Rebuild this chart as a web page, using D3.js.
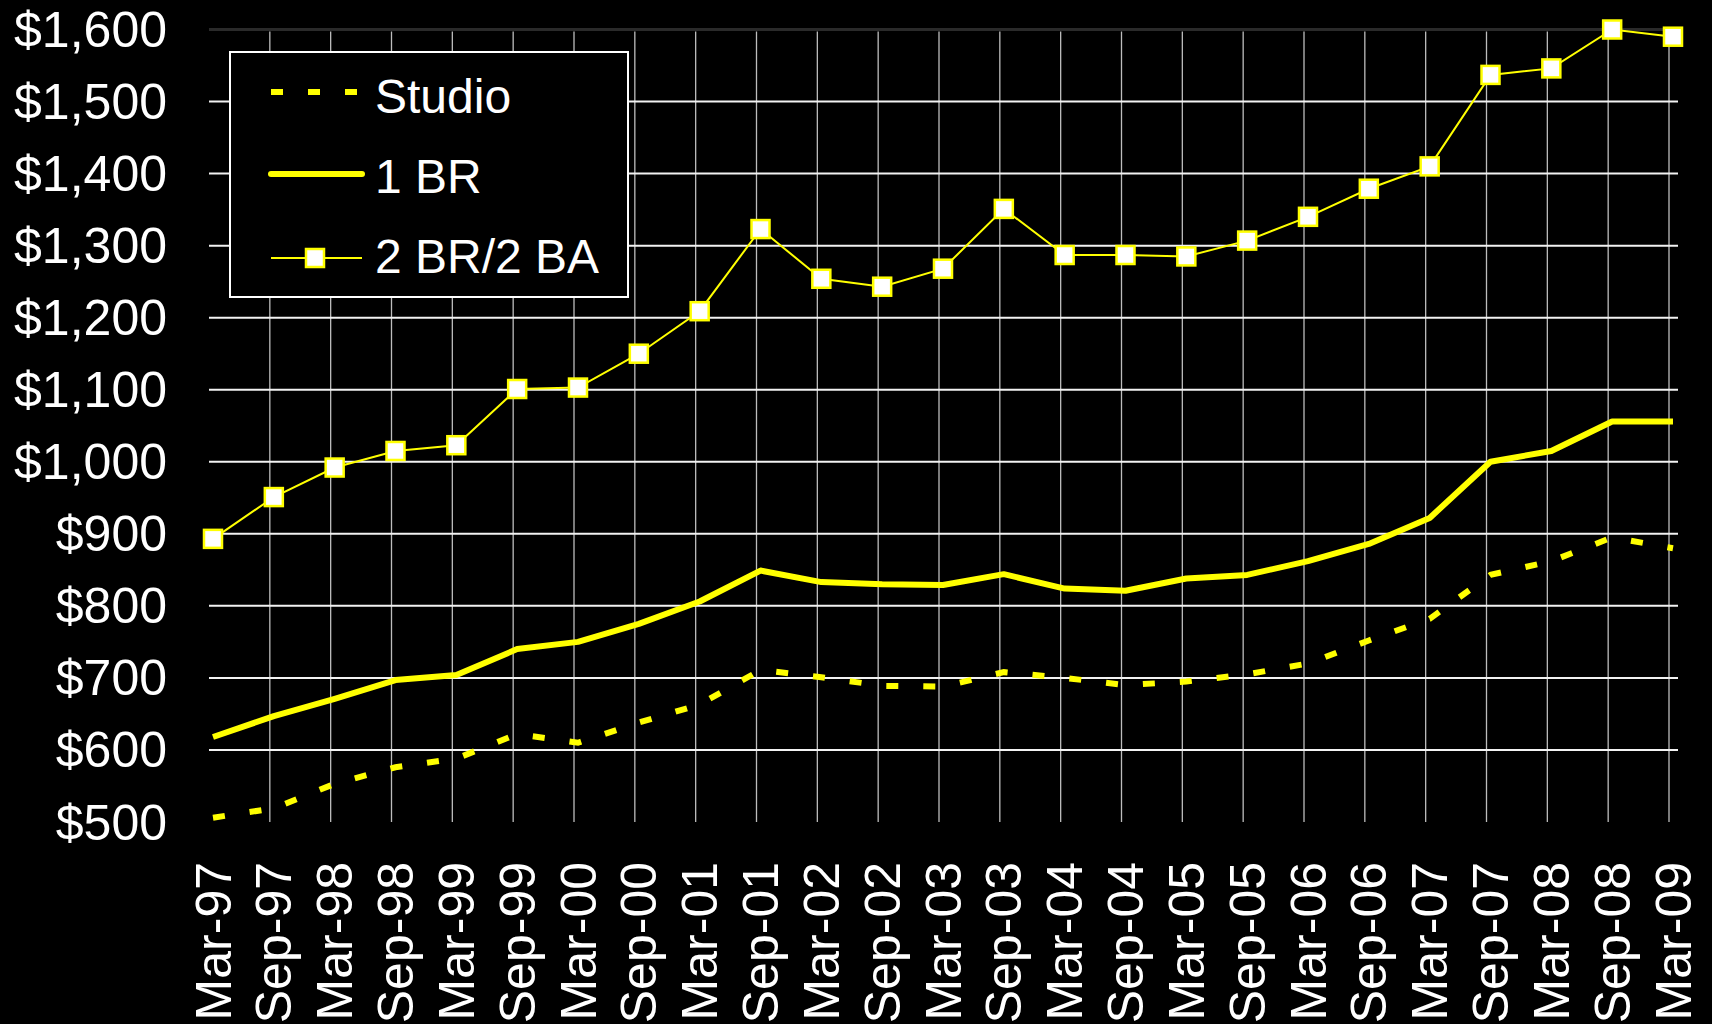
<!DOCTYPE html>
<html>
<head>
<meta charset="utf-8">
<script src="https://cdn.jsdelivr.net/npm/d3@7"></script>
<style>
html,body{margin:0;padding:0;background:#000;}
svg{display:block;}
text{font-family:"Liberation Sans",Arial,sans-serif;fill:#fff;}
</style>
</head>
<body>
<svg id="chart" width="1712" height="1024"></svg>
<script>
const categories = ["Mar-97","Sep-97","Mar-98","Sep-98","Mar-99","Sep-99","Mar-00","Sep-00","Mar-01","Sep-01","Mar-02","Sep-02","Mar-03","Sep-03","Mar-04","Sep-04","Mar-05","Sep-05","Mar-06","Sep-06","Mar-07","Sep-07","Mar-08","Sep-08","Mar-09"];
const studio = [506,519,553,576,588,622,610,638,663,711,701,689,688,708,700,690,695,705,720,752,782,843,862,895,880];
const oneBR = [618,647,671,697,704,740,750,775,806,849,833,830,829,844,824,821,838,843,862,886,922,1000,1015,1056,1056];
const twoBR = [893,951,992,1015,1023,1101,1103,1150,1209,1323,1254,1243,1268,1351,1287,1287,1285,1307,1340,1379,1410,1537,1546,1600,1590];
const yTicks = [500,600,700,800,900,1000,1100,1200,1300,1400,1500,1600];
const seriesNames = ["Studio","1 BR","2 BR/2 BA"];

const svg = d3.select("#chart");
const YELLOW = "#ffff00";

const x = d3.scalePoint().domain(categories).range([213, 1673]);
const y = d3.scaleLinear().domain([500, 1600]).range([822, 29.5]);
const plotLeft = 209, plotRight = 1678;

// top border line
svg.append("line")
  .attr("x1", plotLeft).attr("x2", plotRight)
  .attr("y1", y(1600)).attr("y2", y(1600))
  .attr("stroke", "#2a2a2a").attr("stroke-width", 3);

// vertical gridlines
svg.append("g").selectAll("line")
  .data(categories.slice(1))
  .join("line")
  .attr("x1", d => x(d) - 4).attr("x2", d => x(d) - 4)
  .attr("y1", y(1600) + 2).attr("y2", y(500))
  .attr("stroke", "#bdbdbd").attr("stroke-width", 1.3);

// horizontal gridlines
svg.append("g").selectAll("line")
  .data(yTicks.filter(v => v > 500 && v < 1600))
  .join("line")
  .attr("x1", plotLeft).attr("x2", plotRight)
  .attr("y1", d => y(d)).attr("y2", d => y(d))
  .attr("stroke", "#f2f2f2").attr("stroke-width", 2);

// y labels
const fmt = v => "$" + d3.format(",")(v);
svg.append("g").selectAll("text")
  .data(yTicks)
  .join("text")
  .attr("x", 167).attr("y", d => y(d)).attr("dy", "0.35em")
  .attr("text-anchor", "end").attr("font-size", 50)
  .text(fmt);

// x labels
svg.append("g").selectAll("text")
  .data(categories)
  .join("text")
  .attr("transform", d => `translate(${x(d)},862) rotate(-90)`)
  .attr("dy", "0.35em")
  .attr("text-anchor", "end").attr("font-size", 50)
  .text(d => d);

const line = d3.line().x((d, i) => x(categories[i])).y(d => y(d));

svg.append("path").datum(studio)
  .attr("d", line).attr("fill", "none")
  .attr("stroke", YELLOW).attr("stroke-width", 6)
  .attr("stroke-dasharray", "12,25");

svg.append("path").datum(oneBR)
  .attr("d", line).attr("fill", "none")
  .attr("stroke", YELLOW).attr("stroke-width", 6)
  .attr("stroke-linejoin", "round");

svg.append("path").datum(twoBR)
  .attr("d", line).attr("fill", "none")
  .attr("stroke", YELLOW).attr("stroke-width", 2);

const ms = 18;
svg.append("g").selectAll("rect")
  .data(twoBR)
  .join("rect")
  .attr("x", (d, i) => x(categories[i]) - ms / 2)
  .attr("y", d => y(d) - ms / 2)
  .attr("width", ms).attr("height", ms)
  .attr("fill", "#fff").attr("stroke", YELLOW).attr("stroke-width", 2.5);

// legend
const lg = svg.append("g");
lg.append("rect")
  .attr("x", 230).attr("y", 52).attr("width", 398).attr("height", 245)
  .attr("fill", "#000").attr("stroke", "#fff").attr("stroke-width", 2);

const legendY = [92, 174, 258];
const textY = [96, 176, 256];
const items = lg.selectAll("g.item").data(seriesNames).join("g")
  .attr("class", "item");

items.append("line")
  .attr("x1", 271).attr("x2", 362)
  .attr("y1", (d, i) => legendY[i]).attr("y2", (d, i) => legendY[i])
  .attr("stroke", YELLOW)
  .attr("stroke-width", (d, i) => i === 2 ? 2 : 6)
  .attr("stroke-linecap", (d, i) => i === 1 ? "round" : "butt")
  .attr("stroke-dasharray", (d, i) => i === 0 ? "12,25" : null);

items.filter((d, i) => i === 2).append("rect")
  .attr("x", 315 - ms / 2).attr("y", legendY[2] - ms / 2)
  .attr("width", ms).attr("height", ms)
  .attr("fill", "#fff").attr("stroke", YELLOW).attr("stroke-width", 2.5);

items.append("text")
  .attr("x", 375).attr("y", (d, i) => textY[i]).attr("dy", "0.35em")
  .attr("font-size", 48)
  .text(d => d);
</script>
</body>
</html>
